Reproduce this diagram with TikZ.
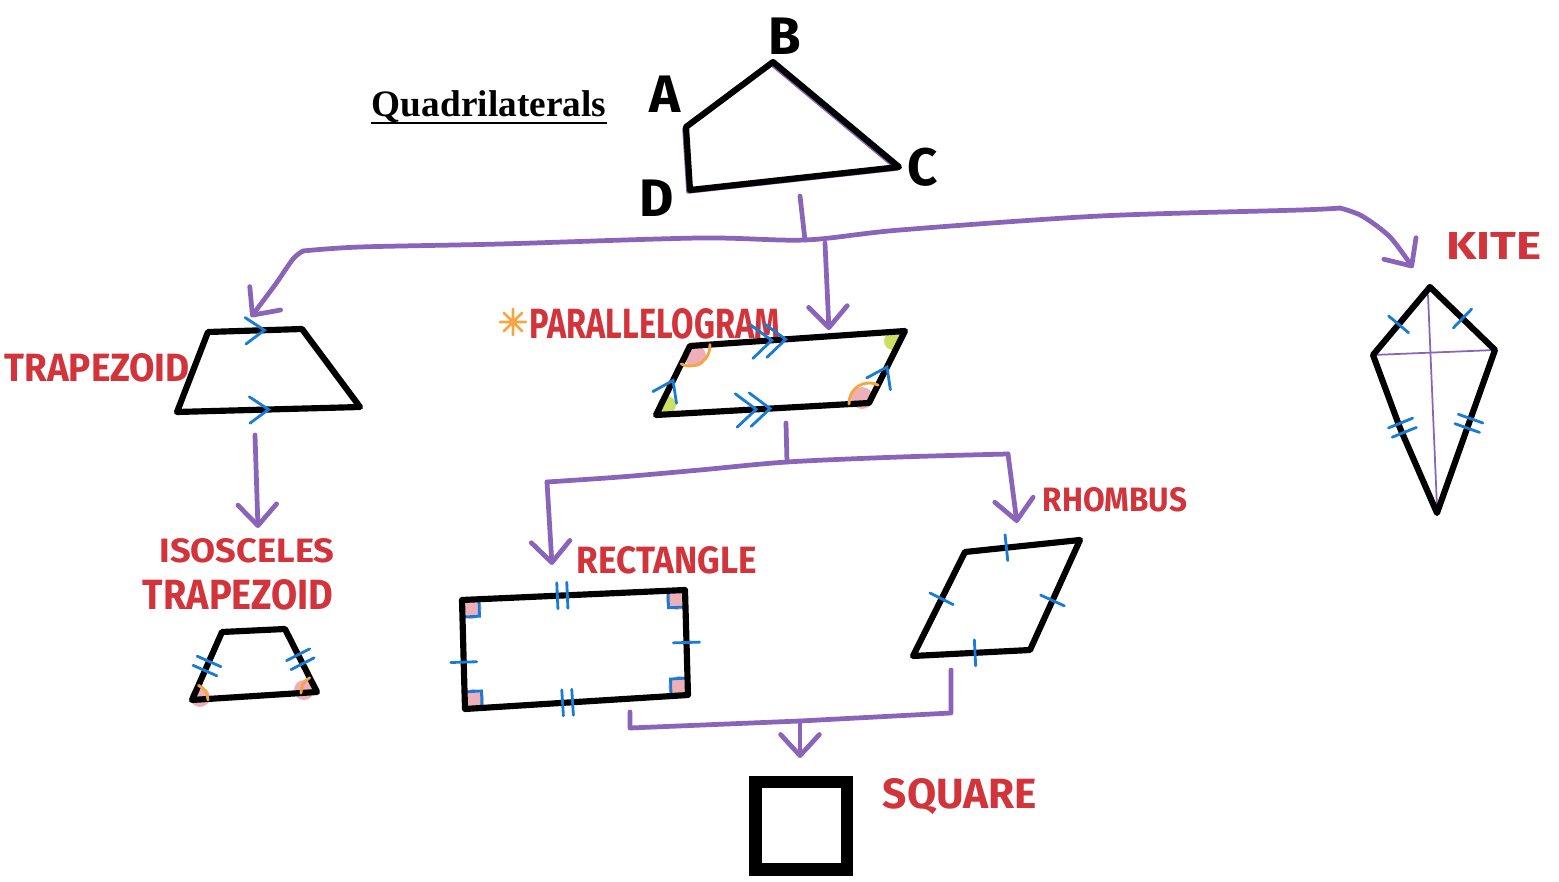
\documentclass[tikz,border=0pt]{standalone}
\usepackage{fontspec}
\setmainfont{Liberation Serif}
\newfontfamily\handfont{Fira Sans}
\usetikzlibrary{calc,arrows.meta}
\definecolor{penpurple}{RGB}{137,100,184}
\definecolor{penred}{RGB}{210,52,60}
\definecolor{penblue}{RGB}{24,124,214}
\definecolor{penorange}{RGB}{246,166,64}
\definecolor{penpink}{RGB}{232,150,160}
\definecolor{pengreen}{RGB}{196,218,70}
\newcommand{\hw}[3]{\resizebox{#1}{#2}{\handfont\bfseries #3}}
\newcommand{\tickat}[3]{%
  \coordinate (tm) at ($(#1)!#3!(#2)$);
  \draw[tk] ($(tm)!0.13cm!90:(#2)$) -- ($(tm)!0.13cm!-90:(#2)$);}
\newcommand{\dtickat}[3]{%
  \coordinate (tm) at ($(#1)!#3!(#2)$);
  \coordinate (t1) at ($(tm)!0.05cm!(#2)$);
  \coordinate (t2) at ($(tm)!-0.05cm!(#2)$);
  \draw[tk] ($(t1)!0.13cm!90:(#2)$) -- ($(t1)!0.13cm!-90:(#2)$);
  \draw[tk] ($(t2)!0.13cm!90:(#2)$) -- ($(t2)!0.13cm!-90:(#2)$);}
\newcommand{\chev}[3]{%
  \coordinate (cm) at ($(#1)!#3!(#2)$);
  \draw[tk] ($(cm)!0.23cm!145:(#2)$) -- (cm) -- ($(cm)!0.23cm!-145:(#2)$);}
\newcommand{\dchev}[3]{%
  \coordinate (cm) at ($(#1)!#3!(#2)$);
  \coordinate (c1) at ($(cm)!0.14cm!(#2)$);
  \draw[tk] ($(cm)!0.26cm!140:(#2)$) -- (cm) -- ($(cm)!0.26cm!-140:(#2)$);
  \draw[tk] ($(c1)!0.26cm!140:(#2)$) -- (c1) -- ($(c1)!0.26cm!-140:(#2)$);}
\newcommand{\rtmark}[3]{%
  \coordinate (r1) at ($(#1)!0.17cm!(#2)$);
  \coordinate (r2) at ($(#1)!0.17cm!(#3)$);
  \fill[pinkdot] ($(#1)!0.5!($(r1)+(r2)-(#1)$)$) circle[radius=11];
  \draw[tk] (r1) -- ($(r1)+(r2)-(#1)$) -- (r2);}

\begin{document}
\begin{tikzpicture}[x=0.01cm, y=-0.01cm,
    shp/.style={black, line width=1.75pt, line join=round, line cap=round},
    conn/.style={penpurple, line width=1.35pt, line cap=round, line join=round},
    arr/.style={conn, -{Straight Barb[length=6pt,width=11pt,round]}},
    tk/.style={penblue, line width=0.8pt, line cap=round},
    ang/.style={penorange, line width=0.8pt, line cap=round},
    pinkdot/.style={fill=penpink, fill opacity=0.75},
    grndot/.style={fill=pengreen, fill opacity=0.85},
    lbl/.style={text=penred, inner sep=0pt},
    vtx/.style={inner sep=0pt, font=\handfont\bfseries\fontsize{15}{16}\selectfont}]

  \useasboundingbox (0,0) rectangle (1559,882);

  \node[anchor=base, inner sep=0pt] (title) at (489,117)
    {\resizebox{2.34cm}{!}{\bfseries Quadrilaterals}};
  \draw[line width=0.85pt] ([yshift=-0.06cm]title.base west) -- ([yshift=-0.06cm]title.base east);

  \coordinate (A) at (686,127);
  \coordinate (B) at (773,62);
  \coordinate (C) at (899,167);
  \coordinate (D) at (690,190);
  \draw[conn, line width=1pt, shift={(-2,2)}] (686,127) -- (773,62) -- (899,167) -- (690,190) -- cycle;
  \draw[shp] (A) -- (B) -- (C) -- (D) -- cycle;
  \node[vtx] (lA) at (665,94) {A};
  \node[vtx] (lB) at (785,36) {B};
  \node[vtx] (lC) at (923,167) {C};
  \node[vtx] (lD) at (657,198) {D};

  \coordinate (stubtop) at (800,196);
  \coordinate (hub) at (805,240);
  \coordinate (lcorner) at (303,251);
  \coordinate (rcorner) at (1340,208);
  \coordinate (midtop) at (825,243);
  \coordinate (trapIn) at (251,317);
  \coordinate (paraIn) at (829,330);
  \coordinate (kiteIn) at (1413,268);
  \draw[conn] (stubtop) -- (hub);
  \draw[conn] plot[smooth, tension=0.5] coordinates {
    (lcorner)(360,247)(500,244)(700,238)(hub)(900,230)(1100,216)(1300,210)(rcorner)};
  \draw[arr] plot[smooth, tension=0.5] coordinates {(lcorner)(293,259)(275,285)(trapIn)};
  \draw[arr] plot[smooth, tension=0.5] coordinates {(rcorner)(1362,216)(1390,237)(kiteIn)};
  \draw[arr] (midtop) -- (paraIn);

  \node[lbl] (trapLbl) at (97,368) {\hw{1.85cm}{0.28cm}{TRAPEZOID}};
  \coordinate (tTL) at (208,332);
  \coordinate (tTR) at (302,329);
  \coordinate (tBR) at (360,407);
  \coordinate (tBL) at (177,412);
  \draw[shp] (tTL) -- (tTR) -- (tBR) -- (tBL) -- cycle;
  \chev{tTL}{tTR}{0.6}
  \chev{tBL}{tBR}{0.5}
  \coordinate (trapOut) at (255,435);
  \coordinate (isoIn) at (258,528);
  \draw[arr] (trapOut) -- (isoIn);

  \node[lbl] (isoLbl) at (247,551) {\hw{1.75cm}{0.24cm}{ISOSCELES}};
  \node[lbl] (isoLbl2) at (238,595) {\hw{1.9cm}{0.3cm}{TRAPEZOID}};
  \coordinate (iTL) at (222,632);
  \coordinate (iTR) at (285,629);
  \coordinate (iBR) at (317,692);
  \coordinate (iBL) at (192,700);
  \fill[pinkdot] (200,697) circle[radius=10];
  \fill[pinkdot] (304,690) circle[radius=10];
  \draw[shp] (iTL) -- (iTR) -- (iBR) -- (iBL) -- cycle;
  \draw[ang] (iBL) ++(0:16) arc[start angle=0, end angle=-66, radius=16];
  \draw[ang] (iBR) ++(-117:16) arc[start angle=-117, end angle=-184, radius=16];
  \dtickat{iBL}{iTL}{0.5}
  \dtickat{iBR}{iTR}{0.52}

  \draw[ang] (513,322) -- ++(0:13) (513,322) -- ++(45:13) (513,322) -- ++(90:13)
    (513,322) -- ++(135:13) (513,322) -- ++(180:13) (513,322) -- ++(225:13)
    (513,322) -- ++(270:13) (513,322) -- ++(315:13);
  \node[lbl] (paraLbl) at (655,324) {\hw{2.5cm}{0.3cm}{PARALLELOGRAM}};
  \coordinate (pTL) at (690,346);
  \coordinate (pTR) at (905,331);
  \coordinate (pBR) at (869,403);
  \coordinate (pBL) at (656,415);
  \fill[pinkdot] (695,356) circle[radius=11];
  \fill[pinkdot] (862,398) circle[radius=11];
  \fill[grndot] (893,341) circle[radius=9];
  \fill[grndot] (667,405) circle[radius=9];
  \draw[shp] (pTL) -- (pTR) -- (pBR) -- (pBL) -- cycle;
  \draw[ang] (pTL) ++(116:20) arc[start angle=116, end angle=-4, radius=20];
  \draw[ang] (pBR) ++(-63:20) arc[start angle=-63, end angle=-183, radius=20];
  \dchev{pTL}{pTR}{0.38}
  \dchev{pBL}{pBR}{0.47}
  \chev{pBL}{pTL}{0.5}
  \chev{pBR}{pTR}{0.5}

  \coordinate (pstub) at (786,423);
  \coordinate (phub) at (787,462);
  \coordinate (pl) at (547,482);
  \coordinate (pr) at (1008,454);
  \coordinate (rectIn) at (552,565);
  \coordinate (rhomIn) at (1017,523);
  \draw[conn] (pstub) -- (phub);
  \draw[conn] plot[smooth, tension=0.5] coordinates {(pl)(620,477)(700,470)(phub)(900,457)(pr)};
  \draw[arr] (pl) -- (rectIn);
  \draw[arr] (pr) -- (rhomIn);

  \node[lbl] (rectLbl) at (667,560) {\hw{1.8cm}{0.27cm}{RECTANGLE}};
  \coordinate (rTL) at (462,600);
  \coordinate (rTR) at (685,590);
  \coordinate (rBR) at (688,695);
  \coordinate (rBL) at (465,709);
  \rtmark{rTL}{rTR}{rBL}
  \rtmark{rTR}{rTL}{rBR}
  \rtmark{rBR}{rTR}{rBL}
  \rtmark{rBL}{rTL}{rBR}
  \draw[shp] (rTL) -- (rTR) -- (rBR) -- (rBL) -- cycle;
  \dtickat{rTL}{rTR}{0.45}
  \dtickat{rBL}{rBR}{0.46}
  \tickat{rTL}{rBL}{0.57}
  \tickat{rTR}{rBR}{0.5}

  \node[lbl] (rhomLbl) at (1115,500) {\hw{1.44cm}{0.24cm}{RHOMBUS}};
  \coordinate (hTL) at (965,552);
  \coordinate (hTR) at (1080,540);
  \coordinate (hBR) at (1030,650);
  \coordinate (hBL) at (913,656);
  \draw[shp] (hTL) -- (hTR) -- (hBR) -- (hBL) -- cycle;
  \tickat{hTL}{hTR}{0.36}
  \tickat{hBL}{hTL}{0.55}
  \tickat{hBR}{hTR}{0.45}
  \tickat{hBL}{hBR}{0.53}

  \coordinate (sl) at (630,712);
  \coordinate (slb) at (630,728);
  \coordinate (shub) at (800,721);
  \coordinate (srb) at (951,713);
  \coordinate (sr) at (951,670);
  \coordinate (sqIn) at (800,758);
  \draw[conn] (sl) -- (slb) -- (shub) -- (srb) -- (sr);
  \draw[arr] (shub) -- (sqIn);

  \draw[line width=0.127cm] (755.5,782) rectangle (847,869.5);
  \node[lbl] (sqLbl) at (960,797) {\hw{1.54cm}{0.3cm}{SQUARE}};

  \node[lbl] (kiteLbl) at (1494,246) {\hw{0.95cm}{0.27cm}{KITE}};
  \coordinate (kT) at (1430,287);
  \coordinate (kL) at (1373,355);
  \coordinate (kR) at (1495,350);
  \coordinate (kB) at (1437,513);
  \draw[conn, line width=0.5pt] (kL) -- (kR);
  \draw[conn, line width=0.5pt] (1428,295) -- (1437,507);
  \draw[shp] (kT) -- (kR) -- (kB) -- (1400,428) -- (kL) -- cycle;
  \tickat{kT}{kL}{0.55}
  \tickat{kT}{kR}{0.5}
  \dtickat{kL}{kB}{0.46}
  \dtickat{kR}{kB}{0.45}
\end{tikzpicture}
\end{document}
